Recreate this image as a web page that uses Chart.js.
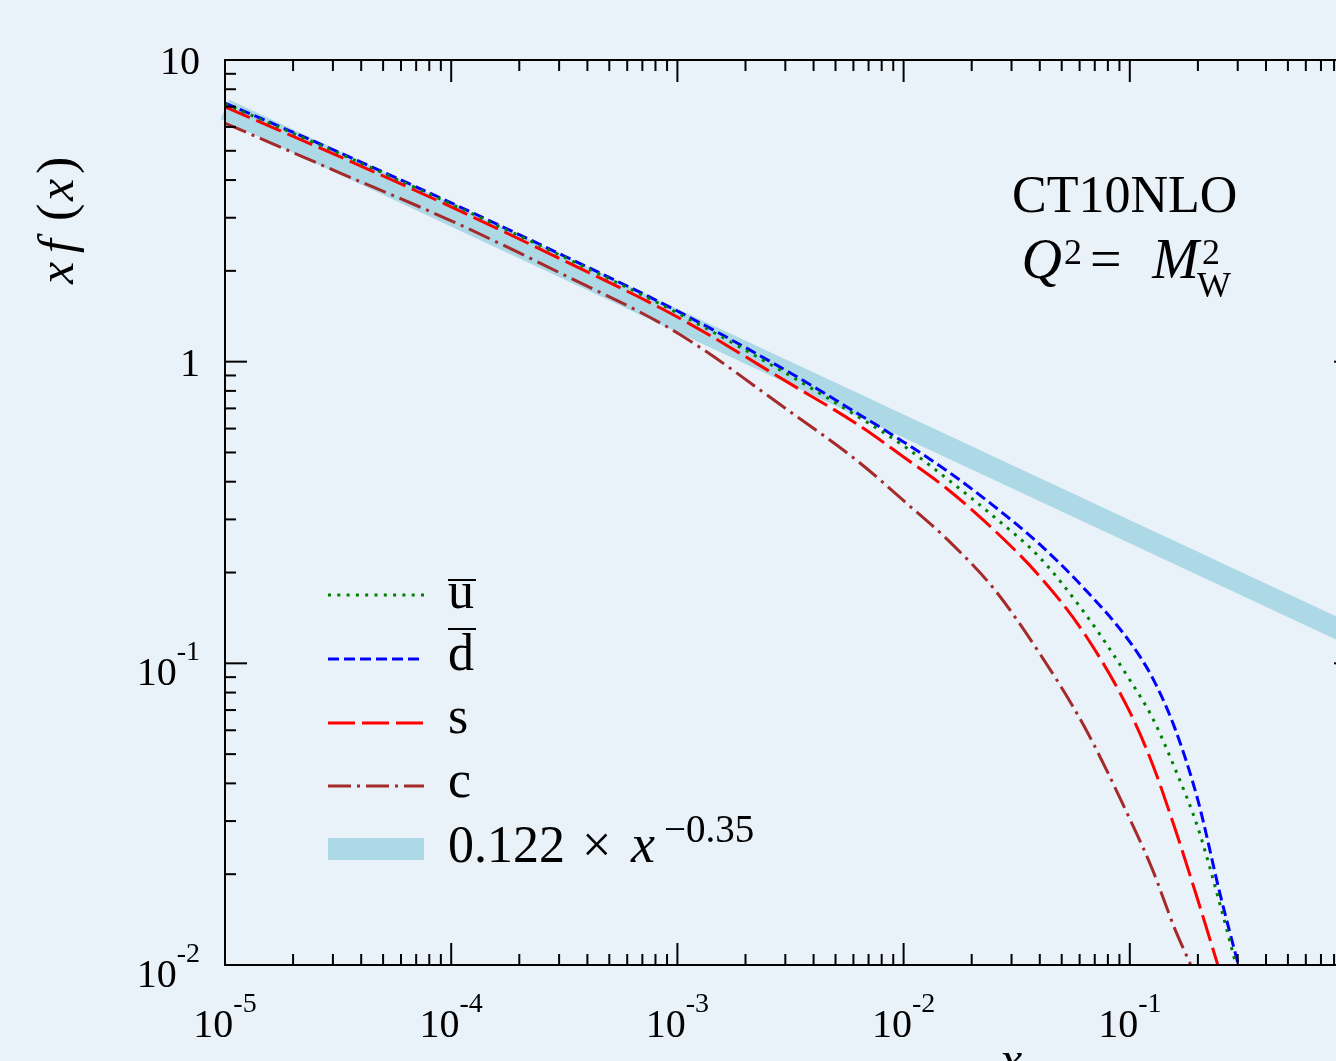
<!DOCTYPE html>
<html>
<head>
<meta charset="utf-8">
<title>CT10NLO sea quark PDFs</title>
<script src="https://cdn.jsdelivr.net/npm/chart.js@4.4.1/dist/chart.umd.min.js"></script>
<style>
  html, body { margin: 0; padding: 0; overflow: hidden; background: #e9f1f9; }
  #wrap { width: 1400px; height: 1061px; }
</style>
</head>
<body>
<div id="wrap"><canvas id="pdfChart" width="1400" height="1061"></canvas></div>
<script>
// values (x, x f(x))
const ubarX = [1e-5, 3.16e-5, 1e-4, 3.16e-4, 1e-3, 3.16e-3, 6.31e-3, 1e-2, 1.58e-2, 2.51e-2, 3.98e-2, 6.31e-2, 0.1, 0.126, 0.158, 0.2, 0.251, 0.295];
const ubarY = [7.15, 4.92, 3.33, 2.22, 1.450, 0.897, 0.656, 0.526, 0.4055, 0.306, 0.225, 0.1469, 0.0881, 0.0659, 0.0450, 0.0285, 0.0158, 0.0100];

const dbarX = [1e-5, 3.16e-5, 1e-4, 3.16e-4, 1e-3, 3.16e-3, 6.31e-3, 1e-2, 1.58e-2, 2.51e-2, 3.98e-2, 6.31e-2, 0.1, 0.126, 0.158, 0.2, 0.251, 0.302];
const dbarY = [7.20, 4.96, 3.36, 2.24, 1.472, 0.917, 0.671, 0.542, 0.431, 0.332, 0.2487, 0.1765, 0.1178, 0.0895, 0.0611, 0.0352, 0.0171, 0.0100];

const sX = [1e-5, 3.16e-5, 1e-4, 3.16e-4, 1e-3, 3.16e-3, 6.31e-3, 1e-2, 1.58e-2, 2.51e-2, 3.98e-2, 6.31e-2, 0.1, 0.126, 0.158, 0.2, 0.245];
const sY = [6.99, 4.81, 3.26, 2.16, 1.406, 0.844, 0.617, 0.483, 0.3756, 0.2768, 0.1949, 0.1252, 0.0690, 0.0463, 0.0285, 0.0164, 0.0100];

const cX = [1e-5, 3.16e-5, 1e-4, 3.16e-4, 1e-3, 3.16e-3, 6.31e-3, 1e-2, 1.58e-2, 2.51e-2, 3.98e-2, 6.31e-2, 0.1, 0.126, 0.158, 0.186];
const cY = [6.18, 4.25, 2.93, 1.938, 1.245, 0.681, 0.466, 0.346, 0.255, 0.1765, 0.1083, 0.0615, 0.0305, 0.0207, 0.0132, 0.0100];

// 0.122 * x^-0.35 reference band, end points only
const bandX = [1e-5, 1];
const bandY = [6.86, 0.122];

// tick labels
const xTickValues = [1e-5, 1e-4, 1e-3, 1e-2, 1e-1];
const xTickExps = ["-5", "-4", "-3", "-2", "-1"];
const yTickValues = [10, 1, 0.1, 0.01];
const yTickBases = ["10", "1", "10", "10"];
const yTickExps = ["", "", "-1", "-2"];

const serif = '"Liberation Serif", "Times New Roman", serif';
function font(size, italic) {
    return (italic ? "italic " : "") + size + "px " + serif;
}

function points(xs, ys) {
    return xs.map((x, i) => ({ x: x, y: ys[i] }));
}

// "10" with a raised exponent
function drawPower(ctx, base, exp, x, baseline, align) {
    ctx.font = font(40);
    let wb = ctx.measureText(base).width;
    ctx.font = font(28);
    let we = exp ? ctx.measureText(exp).width : 0;
    let left = align === "center" ? x - (wb + we) / 2 : x - (wb + we);
    ctx.textAlign = "left";
    ctx.font = font(40);
    ctx.fillText(base, left, baseline);
    if (exp) {
        ctx.font = font(28);
        ctx.fillText(exp, left + wb, baseline - 25);
    }
}

// text ending at x1
function rightText(ctx, text, x1, baseline) {
    ctx.fillText(text, x1 - ctx.measureText(text).width, baseline);
}

function line(ctx, x1, y1, x2, y2) {
    ctx.beginPath();
    ctx.moveTo(x1, y1);
    ctx.lineTo(x2, y2);
    ctx.stroke();
}

const framePlugin = {
    id: "frame",
    beforeDraw(chart) {
        let ctx = chart.ctx;
        ctx.save();
        ctx.fillStyle = "#e9f1f9";
        ctx.fillRect(0, 0, chart.width, chart.height);
        ctx.restore();
    },
    afterDatasetsDraw(chart) {
        let ctx = chart.ctx;
        let a = chart.chartArea;
        let xs = chart.scales.x;
        let ys = chart.scales.y;
        ctx.save();
        ctx.strokeStyle = "#000";
        ctx.fillStyle = "#000";
        ctx.lineWidth = 2;
        ctx.setLineDash([]);
        ctx.strokeRect(a.left, a.top, a.right - a.left, a.bottom - a.top);

        // inward ticks, x axis
        for (let k = -5; k <= 0; k++) {
            for (let m = 1; m <= 9; m++) {
                let v = m * Math.pow(10, k);
                if (v > 1.0001) break;
                let px = xs.getPixelForValue(v);
                let len = m === 1 ? 22 : 11;
                line(ctx, px, a.bottom, px, a.bottom - len);
                line(ctx, px, a.top, px, a.top + len);
            }
        }
        // inward ticks, y axis
        for (let k = -2; k <= 1; k++) {
            for (let m = 1; m <= 9; m++) {
                let v = m * Math.pow(10, k);
                if (v > 10.001) break;
                let py = ys.getPixelForValue(v);
                let len = m === 1 ? 22 : 11;
                line(ctx, a.left, py, a.left + len, py);
                line(ctx, a.right, py, a.right - len, py);
            }
        }

        // tick labels
        ctx.textBaseline = "alphabetic";
        xTickValues.forEach((v, i) => {
            drawPower(ctx, "10", xTickExps[i], xs.getPixelForValue(v), 1037, "center");
        });
        yTickValues.forEach((v, i) => {
            let py = ys.getPixelForValue(v);
            let baseline = yTickExps[i] ? py + 22 : py + 14;
            drawPower(ctx, yTickBases[i], yTickExps[i], 200, baseline, "right");
        });

        // axis titles
        ctx.save();
        ctx.translate(73, 285);
        ctx.rotate(-Math.PI / 2);
        ctx.font = font(50, true);
        ctx.fillText("x", 1, 0);
        ctx.fillText("f", 32, 0);
        ctx.font = font(52);
        ctx.fillText("(", 64, 0);
        ctx.font = font(50, true);
        ctx.fillText("x", 84, 0);
        ctx.font = font(52);
        ctx.fillText(")", 111, 0);
        ctx.restore();
        ctx.font = font(50, true);
        ctx.fillText("x", 1000, 1076);

        // annotation
        ctx.font = font(52);
        ctx.fillText("CT10NLO", 1012, 212);
        ctx.font = font(56, true);
        rightText(ctx, "Q", 1062, 278);
        ctx.font = font(36);
        ctx.fillText("2", 1064, 264);
        ctx.font = font(56);
        ctx.fillText("=", 1090, 278);
        ctx.font = font(56, true);
        rightText(ctx, "M", 1199, 278);
        ctx.font = font(36);
        ctx.fillText("2", 1202, 264);
        ctx.fillText("W", 1197, 297);

        // legend
        let rows = [595, 659, 723, 786, 849];
        let baselines = [608, 670, 733, 797, 862];
        chart.data.datasets.forEach((ds, i) => {
            let y = rows[i];
            if (ds.isBand) {
                ctx.fillStyle = ds.borderColor;
                ctx.fillRect(328, 838, 96, 22);
                ctx.fillStyle = "#000";
            } else {
                ctx.strokeStyle = ds.borderColor;
                ctx.lineWidth = ds.borderWidth;
                ctx.setLineDash(ds.borderDash);
                line(ctx, 328, y, 424, y);
                ctx.setLineDash([]);
                ctx.strokeStyle = "#000";
            }
        });
        ctx.lineWidth = 2;
        ctx.font = font(52);
        ctx.fillText("u", 448, baselines[0]);
        line(ctx, 448, 580, 476, 580);
        ctx.fillText("d", 448, baselines[1]);
        line(ctx, 448, 629, 476, 629);
        ctx.fillText("s", 448, baselines[2]);
        ctx.fillText("c", 448, baselines[3]);
        ctx.fillText("0.122", 448, baselines[4]);
        ctx.fillText("\u00d7", 582, baselines[4]);
        ctx.font = font(54, true);
        ctx.fillText("x", 631, baselines[4]);
        ctx.font = font(39);
        ctx.fillText("\u22120.35", 664, 842);
        ctx.restore();
    }
};

let ctx = document.getElementById("pdfChart").getContext("2d");
let pdfChart = new Chart(ctx, {
    type: "line",
    data: {
        datasets: [
            { label: "ubar", data: points(ubarX, ubarY), borderColor: "#008000", borderWidth: 3, borderDash: [3, 6.3] },
            { label: "dbar", data: points(dbarX, dbarY), borderColor: "#0000ff", borderWidth: 3, borderDash: [11, 5] },
            { label: "s", data: points(sX, sY), borderColor: "#ff0000", borderWidth: 3, borderDash: [27, 7] },
            { label: "c", data: points(cX, cY), borderColor: "#a52a2a", borderWidth: 3, borderDash: [23, 6, 3, 6] },
            { label: "band", data: points(bandX, bandY), borderColor: "#add8e6", borderWidth: 21, borderDash: [], isBand: true, clip: false, borderCapStyle: "butt" }
        ]
    },
    options: {
        responsive: false,
        animation: false,
        layout: { padding: { left: 225, top: 60, right: 44, bottom: 96 } },
        elements: {
            point: { radius: 0 },
            line: { cubicInterpolationMode: "monotone", fill: false }
        },
        scales: {
            x: { type: "logarithmic", min: 1e-5, max: 1, display: false },
            y: { type: "logarithmic", min: 0.01, max: 10, display: false }
        },
        plugins: {
            legend: { display: false },
            tooltip: { enabled: false }
        }
    },
    plugins: [framePlugin]
});
</script>
</body>
</html>
